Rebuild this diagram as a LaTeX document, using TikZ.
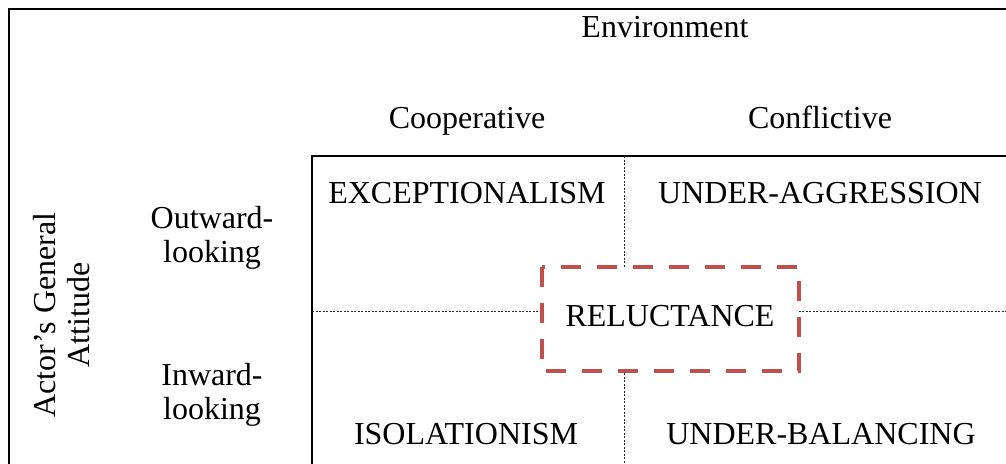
\documentclass[tikz,border=0pt]{standalone}
\usepackage{fontspec}
\setmainfont{Liberation Serif}
\usetikzlibrary{positioning}
\definecolor{accentred}{HTML}{C0504D}

\begin{document}
\begin{tikzpicture}[x=1pt,y=-1pt,
  txt/.style={font=\fontsize{32}{34}\selectfont, inner sep=0pt, align=center},
  gridline/.style={color=black!85, line width=1pt, dash pattern=on 2pt off 1.5pt},
  focusbox/.style={draw=accentred, line width=4pt, dash pattern=on 20pt off 16pt, fill=white}]
\useasboundingbox (0,0) rectangle (1006,463);
\clip (0,0) rectangle (1006,463);
% frame and matrix box
\draw[line width=2.5pt] (9,9) rectangle (1030,490);
\coordinate (tl) at (312,156);
\draw[line width=1.4pt] (1030,156) -- (tl) -- (312,490);
% quadrant lines
\coordinate (vtop) at (624,156);
\coordinate (vbot) at (624,463);
\coordinate (hleft) at (312,311);
\coordinate (hright) at (1006,311);
\draw[gridline] (vtop) -- (vbot);
\draw[gridline] (hleft) -- (hright);
% column heads
\node[txt, anchor=base] (env) at (665,37) {Environment};
\node[txt, anchor=base] (coop) at (467,128) {Cooperative};
\node[txt, anchor=base] (conf) at (820,128) {Conflictive};
% row heads
\node[txt, rotate=90] (actor) at (62,315) {Actor’s General\\Attitude};
\node[txt] (outward) at (212,238) {Outward-\\looking};
\node[txt] (inward) at (212,395) {Inward-\\looking};
% cells
\node[txt, anchor=base] (exc) at (467,203) {EXCEPTIONALISM};
\node[txt, anchor=base] (uagg) at (820,203) {UNDER-AGGRESSION};
\node[txt, anchor=base] (iso) at (466,444) {ISOLATIONISM};
\node[txt, anchor=base] (ubal) at (821,444) {UNDER-BALANCING};
\draw[focusbox] (541.5,267) rectangle (799,371);
\node[txt, anchor=base] (rel) at (670,326) {RELUCTANCE};
\end{tikzpicture}
\end{document}
